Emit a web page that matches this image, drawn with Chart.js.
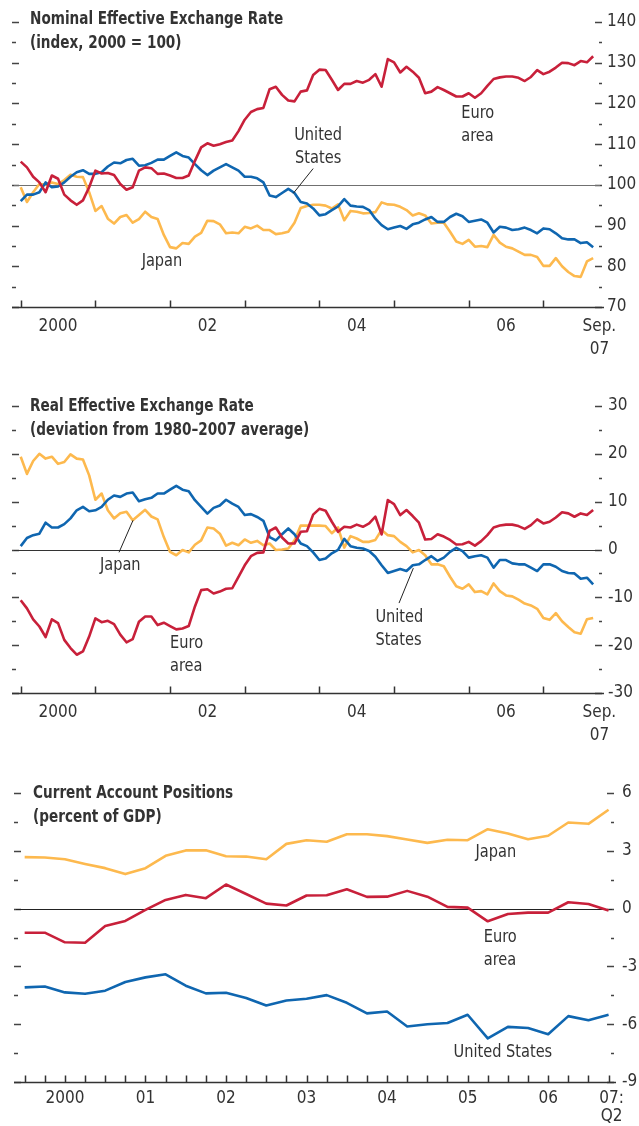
<!DOCTYPE html>
<html>
<head>
<meta charset="utf-8">
<script src="https://cdn.jsdelivr.net/npm/chart.js@4.4.1/dist/chart.umd.min.js"></script>
<style>
  html, body { margin: 0; padding: 0; background: #fff; }
  #page { position: relative; width: 639px; height: 1126px; overflow: hidden; }
  canvas { position: absolute; left: 0; }
  .title {
    position: absolute;
    font-family: 'Liberation Sans Narrow', 'Arial Narrow', 'DejaVu Sans Condensed', sans-serif;
    font-weight: bold; font-size: 18px; line-height: 24px; color: #333;
    white-space: nowrap;
    transform: scaleX(0.84);
    transform-origin: 0 0;
  }
</style>
</head>
<body>
<div id="page">
  <canvas id="nominal" width="639" height="360" style="top:0"></canvas>
  <canvas id="real" width="639" height="385" style="top:360px"></canvas>
  <canvas id="current" width="639" height="381" style="top:745px"></canvas>
  <div class="title" style="left:30px; top:6px">Nominal Effective Exchange Rate<br>(index, 2000 = 100)</div>
  <div class="title" style="left:30px; top:393px">Real Effective Exchange Rate<br>(deviation from 1980–2007 average)</div>
  <div class="title" style="left:33px; top:780px">Current Account Positions<br>(percent of GDP)</div>
</div>
<script>
const FONT = "'Liberation Sans Narrow', 'Arial Narrow', 'DejaVu Sans Condensed', sans-serif";
const TEXT = '#333333';
const RED = '#c8203a';
const BLUE = '#0f66b0';
const GOLD = '#fdb94e';

// monthly, Jan 2000 - Sep 2007 (index 0 = Jan 2000)
const nominalEuro = [
  105.7, 104.3, 102.0, 100.6, 98.2, 102.3, 101.5, 97.6, 96.2, 95.1, 96.2, 99.4,
  103.5, 102.8, 102.9, 102.4, 100.2, 98.8, 99.4, 103.5, 104.3, 104.1, 102.7, 102.8,
  102.3, 101.7, 101.7, 102.3, 105.9, 109.2, 110.2, 109.6, 110.0, 110.5, 110.9, 113.2,
  116.0, 117.9, 118.6, 118.9, 123.5, 124.1, 122.1, 120.7, 120.5, 122.9, 123.2, 127.0,
  128.3, 128.2, 125.8, 123.3, 124.8, 124.8, 125.5, 125.1, 125.8, 127.2, 124.1, 130.9,
  130.1, 127.6, 129.0, 127.8, 126.3, 122.5, 122.9, 124.0, 123.3, 122.5, 121.7, 121.7,
  122.5, 121.4, 122.5, 124.3, 126.0, 126.4, 126.6, 126.6, 126.3, 125.5, 126.5, 128.2,
  127.2, 127.8, 128.8, 130.0, 129.9, 129.4, 130.4, 130.1, 131.6
];
const nominalUS = [
  96.0, 97.6, 97.6, 98.2, 100.6, 99.4, 99.6, 100.6, 102.0, 103.1, 103.6, 102.7,
  102.7, 103.1, 104.5, 105.5, 105.3, 106.1, 106.4, 104.7, 104.8, 105.4, 106.2, 106.2,
  107.1, 108.0, 107.1, 106.7, 105.1, 103.6, 102.4, 103.5, 104.3, 105.1, 104.3, 103.5,
  102.0, 102.0, 101.6, 100.6, 97.4, 97.0, 98.0, 99.0, 98.0, 95.8, 95.4, 94.2,
  92.5, 92.8, 93.8, 94.7, 96.5, 94.9, 94.7, 94.6, 93.8, 91.7, 90.1, 89.1,
  89.5, 89.9, 89.2, 90.3, 90.7, 91.5, 92.1, 90.9, 90.9, 92.1, 92.9, 92.3,
  90.9, 91.2, 91.5, 90.7, 88.3, 89.7, 89.5, 88.9, 89.1, 89.5, 88.9, 88.1,
  89.3, 89.1, 88.1, 86.9, 86.6, 86.6, 85.7, 85.9, 84.7
];
const nominalJapan = [
  99.4, 95.8, 98.2, 100.2, 100.1, 100.6, 100.2, 101.2, 102.5, 102.0, 101.9, 98.2,
  93.6, 94.8, 91.7, 90.5, 92.1, 92.6, 90.7, 91.6, 93.4, 92.1, 91.6, 87.7,
  84.7, 84.4, 85.7, 85.5, 87.3, 88.2, 91.2, 91.1, 90.3, 88.1, 88.3, 88.1,
  89.7, 89.3, 90.0, 88.9, 88.9, 87.9, 88.1, 88.5, 90.7, 94.3, 94.8, 95.1,
  95.1, 94.9, 94.2, 95.2, 91.3, 93.6, 93.4, 93.0, 93.1, 93.3, 95.7, 95.2,
  95.1, 94.6, 93.8, 92.5, 93.0, 92.5, 90.5, 90.7, 90.7, 88.5, 86.1, 85.5,
  86.5, 84.8, 85.0, 84.7, 87.7, 85.8, 84.8, 84.4, 83.6, 82.8, 82.8, 82.3,
  80.1, 80.1, 82.0, 80.0, 78.6, 77.6, 77.4, 81.2, 82.0
];

const realEuro = [
  -10.6, -12.3, -14.6, -16.1, -18.3, -14.6, -15.4, -18.9, -20.6, -22.0, -21.3, -18.2,
  -14.4, -15.2, -14.9, -15.6, -17.8, -19.4, -18.75, -15.1, -14.0, -14.0, -15.8, -15.3,
  -16.0, -16.7, -16.5, -16.0, -11.9, -8.5, -8.3, -9.2, -8.8, -8.2, -8.1, -5.7,
  -3.3, -1.4, -0.7, -0.6, 3.9, 4.6, 2.5, 1.25, 1.25, 3.7, 3.8, 7.3,
  8.5, 8.1, 5.8, 3.7, 4.75, 4.6, 5.2, 4.75, 5.45, 6.85, 3.15, 10.35,
  9.5, 7.2, 8.25, 7.0, 5.6, 2.1, 2.2, 3.2, 2.7, 2.0, 1.05, 1.1,
  1.6, 0.8, 1.75, 3.0, 4.6, 5.0, 5.2, 5.2, 4.9, 4.3, 5.1, 6.3,
  5.45, 5.8, 6.7, 7.8, 7.55, 6.85, 7.55, 7.2, 8.25
];
const realUS = [
  0.7, 2.4, 3.0, 3.3, 5.6, 4.6, 4.6, 5.3, 6.5, 8.2, 8.9, 8.0,
  8.2, 8.9, 10.4, 11.3, 11.0, 11.7, 11.9, 10.1, 10.5, 10.8, 11.7, 11.7,
  12.5, 13.3, 12.5, 12.2, 10.3, 8.9, 7.5, 8.7, 9.2, 10.4, 9.6, 8.9,
  7.2, 7.4, 6.8, 6.0, 2.6, 1.9, 3.2, 4.4, 3.2, 1.25, 0.7, -0.6,
  -2.2, -1.9, -0.8, -0.1, 2.2, 0.7, 0.35, 0.2, -0.3, -1.5, -3.3, -4.9,
  -4.5, -4.1, -4.5, -3.3, -3.1, -2.2, -1.4, -2.4, -1.7, -0.5, 0.35, -0.35,
  -1.7, -1.4, -1.2, -1.7, -3.8, -2.2, -2.2, -2.9, -3.1, -3.1, -3.8, -4.5,
  -3.1, -3.1, -3.6, -4.5, -4.9, -5.0, -6.1, -5.9, -7.3
];
const realJapan = [
  19.4, 15.8, 18.5, 20.0, 19.0, 19.4, 17.9, 18.3, 19.9, 19.0, 18.8, 15.5,
  10.4, 11.7, 8.2, 6.5, 7.6, 7.9, 6.1, 7.2, 8.3, 6.9, 6.3, 2.6,
  -0.5, -1.2, -0.1, -0.6, 1.0, 1.9, 4.6, 4.4, 3.3, 0.8, 1.4, 0.9,
  2.1, 1.4, 1.8, 0.9, 1.25, -0.1, 0.0, 0.2, 1.9, 5.0, 5.0, 5.0,
  5.0, 4.9, 3.4, 4.6, 0.4, 2.8, 2.3, 1.6, 1.6, 2.0, 4.1, 3.0,
  2.8, 1.6, 0.7, -0.6, -0.1, -1.2, -3.1, -3.1, -3.5, -5.7, -7.7, -8.2,
  -7.3, -8.9, -8.7, -9.4, -7.1, -8.7, -9.6, -9.8, -10.5, -11.3, -11.7, -12.4,
  -14.3, -14.7, -13.3, -15.0, -16.2, -17.3, -17.6, -14.6, -14.3
];

// quarterly, 2000:Q1 - 2007:Q2 (index 0 = 2000:Q1)
const caJapan = [
  2.67, 2.65, 2.56, 2.32, 2.10, 1.79, 2.10, 2.74, 3.02, 3.03, 2.72, 2.70, 2.56, 3.36, 3.55,
  3.47, 3.86, 3.86, 3.76, 3.59, 3.41, 3.57, 3.55, 4.12, 3.90, 3.60, 3.78, 4.47, 4.40, 5.13
];
const caEuro = [
  -1.25, -1.25, -1.75, -1.77, -0.90, -0.64, -0.07, 0.45, 0.71, 0.54, 1.25, 0.76, 0.26, 0.16, 0.68,
  0.69, 1.00, 0.61, 0.62, 0.92, 0.62, 0.09, 0.05, -0.66, -0.28, -0.21, -0.21, 0.33, 0.24, -0.10
];
const caUS = [
  -4.09, -4.04, -4.35, -4.42, -4.26, -3.81, -3.57, -3.41, -4.00, -4.40, -4.37, -4.64, -5.03, -4.77, -4.68,
  -4.49, -4.89, -5.44, -5.34, -6.12, -6.00, -5.94, -5.51, -6.74, -6.14, -6.20, -6.52, -5.58, -5.79, -5.51
];

// axis labels
const monthLabelAt = [6, 30, 54, 78, 93];
const monthLabels = ['2000', '02', '04', '06', ['Sep.', '07']];
const monthTickAt = [0, 12, 24, 36, 48, 60, 72, 84];
const quarterLabelAt = [2, 6, 10, 14, 18, 22, 26, 29.15];
const quarterLabels = ['2000', '01', '02', '03', '04', '05', '06', ['07:', 'Q2']];
const quarterTickAt = Array.from({ length: 30 }, (_, i) => i);

Chart.defaults.font.family = FONT;
Chart.defaults.color = TEXT;

function toPoints(values) {
  return values.map((v, i) => ({ x: i, y: v }));
}

function lineSet(values, color, order) {
  return {
    data: toPoints(values),
    borderColor: color,
    borderWidth: 2.6,
    pointRadius: 0,
    tension: 0,
    order: order,
    borderJoinStyle: 'round'
  };
}

// reference line, side dashes, bottom axis, labels
const panelDecor = {
  id: 'panelDecor',
  beforeDatasetsDraw(chart, args, o) {
    const { ctx, chartArea: a, scales: { x, y } } = chart;
    ctx.save();
    ctx.strokeStyle = '#444';
    ctx.lineWidth = 1.3;
    y.ticks.forEach(t => {
      const py = Math.round(y.getPixelForValue(t.value)) + 0.5;
      const major = t.label !== '';
      ctx.beginPath();
      ctx.moveTo(a.left - 2, py);
      ctx.lineTo(a.left + (major ? 5 : 2), py);
      ctx.moveTo(a.right - (major ? 5 : 1), py);
      ctx.lineTo(a.right + 2, py);
      ctx.stroke();
    });
    // reference line
    const ry = Math.round(y.getPixelForValue(o.ref)) + 0.5;
    ctx.strokeStyle = o.refColor;
    ctx.lineWidth = 1.2;
    ctx.beginPath();
    ctx.moveTo(a.left, ry);
    ctx.lineTo(a.right, ry);
    ctx.stroke();
    // bottom axis with upward ticks
    const by = Math.round(a.bottom) + 0.5;
    ctx.strokeStyle = '#333';
    ctx.lineWidth = 1.5;
    ctx.beginPath();
    ctx.moveTo(a.left - 2, by);
    ctx.lineTo(a.right + 4, by);
    o.ticks.forEach(v => {
      const px = Math.round(x.getPixelForValue(v)) + 0.5;
      ctx.moveTo(px, by);
      ctx.lineTo(px, by - 7);
    });
    ctx.stroke();
    ctx.restore();
  },
  afterDatasetsDraw(chart, args, o) {
    const { ctx, scales: { x, y } } = chart;
    ctx.save();
    ctx.strokeStyle = '#222';
    ctx.lineWidth = 1;
    (o.leaders || []).forEach(l => {
      ctx.beginPath();
      ctx.moveTo(x.getPixelForValue(l[0]), y.getPixelForValue(l[1]));
      ctx.lineTo(x.getPixelForValue(l[2]), y.getPixelForValue(l[3]));
      ctx.stroke();
    });
    ctx.fillStyle = TEXT;
    ctx.font = '18px ' + FONT;
    ctx.textBaseline = 'middle';
    (o.notes || []).forEach(n => {
      ctx.save();
      ctx.translate(x.getPixelForValue(n.x), y.getPixelForValue(n.y));
      ctx.scale(0.9, 1);
      ctx.textAlign = n.align || 'center';
      ctx.fillText(n.text, 0, 0);
      ctx.restore();
    });
    ctx.restore();
  }
};

function makePanel(id, p) {
  return new Chart(document.getElementById(id), {
    type: 'line',
    data: { datasets: p.datasets },
    options: {
      responsive: false,
      animation: false,
      layout: { padding: { left: p.left, top: p.top, right: 0, bottom: 0 } },
      plugins: {
        legend: { display: false },
        tooltip: { enabled: false },
        panelDecor: { ref: p.ref, refColor: p.refColor, ticks: p.xTicks, notes: p.notes, leaders: p.leaders }
      },
      scales: {
        x: {
          type: 'linear',
          min: p.xMin,
          max: p.xMax,
          grid: { display: false, drawTicks: false },
          border: { display: false },
          afterBuildTicks: s => { s.ticks = p.xLabelAt.map(v => ({ value: v })); },
          afterFit: s => { s.height = p.xHeight; },
          ticks: {
            autoSkip: false,
            maxRotation: 0,
            padding: p.xPad,
            font: { size: 17, lineHeight: p.xLine },
            color: TEXT,
            callback: (v, i) => p.xLabels[i]
          }
        },
        y: {
          position: 'right',
          min: p.yMin,
          max: p.yMax,
          grid: { display: false, drawTicks: false },
          border: { display: false },
          afterFit: s => { s.width = p.yWidth; },
          ticks: {
            stepSize: p.step,
            autoSkip: false,
            padding: p.yPad,
            font: { size: 17 },
            color: TEXT,
            callback: v => {
              const r = v / p.labelEvery;
              return Math.abs(r - Math.round(r)) < 1e-6 ? String(Math.round(v)) : '';
            }
          }
        }
      }
    },
    plugins: [panelDecor]
  });
}

// Nominal effective exchange rate
makePanel('nominal', {
  datasets: [lineSet(nominalEuro, RED, 0), lineSet(nominalUS, BLUE, 1), lineSet(nominalJapan, GOLD, 2)],
  left: 14, top: 22, xHeight: 53, yWidth: 39, yPad: 7, xPad: 9, xLine: 1.3,
  xMin: -1.08, xMax: 93.1, xLabelAt: monthLabelAt, xLabels: monthLabels, xTicks: monthTickAt,
  yMin: 70, yMax: 140, step: 5, labelEvery: 10,
  ref: 100, refColor: '#707070',
  notes: [
    { text: 'United', x: 47.8, y: 112.2 },
    { text: 'States', x: 47.8, y: 106.6 },
    { text: 'Japan', x: 22.7, y: 81.3 },
    { text: 'Euro', x: 70.8, y: 117.6, align: 'left' },
    { text: 'area', x: 70.8, y: 112.0, align: 'left' }
  ],
  leaders: [[47.0, 104.0, 43.8, 97.9]]
});

// Real effective exchange rate
makePanel('real', {
  datasets: [lineSet(realEuro, RED, 0), lineSet(realUS, BLUE, 1), lineSet(realJapan, GOLD, 2)],
  left: 14, top: 46, xHeight: 52, yWidth: 39, yPad: 8, xPad: 9, xLine: 1.3,
  xMin: -1.08, xMax: 93.1, xLabelAt: monthLabelAt, xLabels: monthLabels, xTicks: monthTickAt,
  yMin: -30, yMax: 30, step: 5, labelEvery: 10,
  ref: 0, refColor: '#333',
  notes: [
    { text: 'Japan', x: 16.0, y: -3.3 },
    { text: 'Euro', x: 24.0, y: -19.7, align: 'left' },
    { text: 'area', x: 24.0, y: -24.5, align: 'left' },
    { text: 'United', x: 57.0, y: -14.1, align: 'left' },
    { text: 'States', x: 57.0, y: -18.9, align: 'left' }
  ],
  leaders: [[15.8, -0.6, 18.05, 6.1], [60.8, -11.2, 63.1, -3.9]]
});

// Current account positions
makePanel('current', {
  datasets: [lineSet(caEuro, RED, 0), lineSet(caUS, BLUE, 1), lineSet(caJapan, GOLD, 2)],
  left: 16, top: 48, xHeight: 44, yWidth: 27, yPad: 10, xPad: 7, xLine: 1.1,
  xMin: -0.43, xMax: 29.17, xLabelAt: quarterLabelAt, xLabels: quarterLabels, xTicks: quarterTickAt,
  yMin: -9, yMax: 6, step: 1.5, labelEvery: 3,
  ref: 0, refColor: '#222',
  notes: [
    { text: 'Japan', x: 23.4, y: 2.9 },
    { text: 'Euro', x: 22.8, y: -1.47, align: 'left' },
    { text: 'area', x: 22.8, y: -2.67, align: 'left' },
    { text: 'United States', x: 23.75, y: -7.45 }
  ],
  leaders: []
});
</script>
</body>
</html>
